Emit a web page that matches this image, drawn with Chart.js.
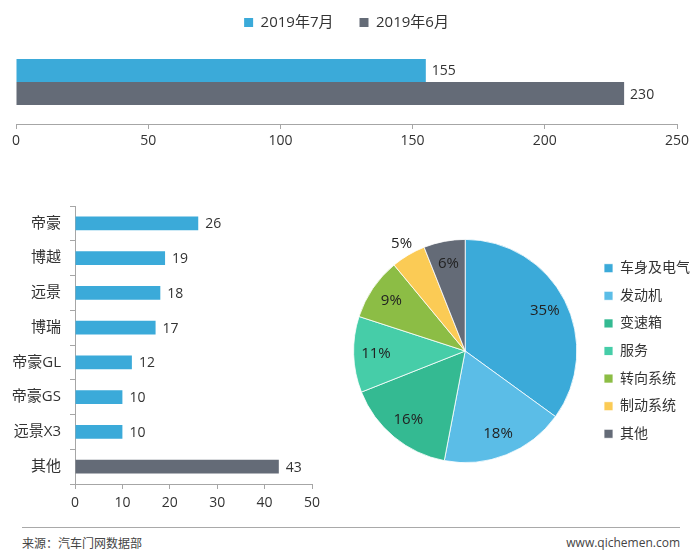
<!DOCTYPE html>
<html>
<head>
<meta charset="utf-8">
<script src="https://cdn.jsdelivr.net/npm/chart.js@4/dist/chart.umd.min.js"></script>
<style>
  html,body{margin:0;padding:0;background:#fff;overflow:hidden;}
  body{width:700px;height:560px;position:relative;font-family:"Open Sans","Noto Sans CJK SC",sans-serif;}
  .box{position:absolute;}
  #foot{position:absolute;left:22px;top:527px;width:658px;border-top:1px solid #a9a9a9;font-size:12px;color:#444;}
  #foot span{position:absolute;top:6px;}
</style>
</head>
<body>
<div class="box" style="left:0;top:-11px;width:700px;height:165px"><canvas id="top"></canvas></div>
<div class="box" style="left:0;top:188px;width:340px;height:332px"><canvas id="models"></canvas></div>
<div class="box" style="left:340px;top:215px;width:360px;height:272px"><canvas id="parts"></canvas></div>
<div id="foot"><span style="left:0">来源：汽车门网数据部</span><span style="right:0">www.qichemen.com</span></div>
<script>
// 总量：2019年7月 vs 2019年6月
const monthLabels=['2019年7月','2019年6月'];
const monthValues=[155,230];

// 车型
const modelNames=['帝豪','博越','远景','博瑞','帝豪GL','帝豪GS','远景X3','其他'];
const modelValues=[26,19,18,17,12,10,10,43];

// 故障部位占比 (%)
const partNames=['车身及电气','发动机','变速箱','服务','转向系统','制动系统','其他'];
const partValues=[35,18,16,11,9,5,6];

const FONT='"Open Sans","Noto Sans CJK SC",sans-serif';
const BLUE='#3BAAD9', GREY='#646B77';
Chart.defaults.font.family=FONT;
Chart.defaults.color='#333';
Chart.defaults.animation=false;

// 数值标签
const valueLabels={
  id:'valueLabels',
  afterDatasetsDraw(chart,args,opts){
    const ctx=chart.ctx;
    ctx.save();
    ctx.font=(opts.size||14)+'px '+FONT;
    ctx.fillStyle=opts.color||'#333';
    chart.data.datasets.forEach((ds,i)=>{
      const meta=chart.getDatasetMeta(i);
      meta.data.forEach((el,j)=>{
        const v=ds.data[j];
        if(chart.config.type==='pie'){
          const mid=(el.startAngle+el.endAngle)/2;
          const f=v<6?1.12:0.8;
          ctx.textAlign='center';ctx.textBaseline='middle';
          ctx.fillText(v+'%',el.x+Math.cos(mid)*el.outerRadius*f,el.y+Math.sin(mid)*el.outerRadius*f);
        }else{
          ctx.textAlign='left';ctx.textBaseline='middle';
          ctx.fillText(String(v),el.x+(opts.offset||6),el.y+1);
        }
      });
    });
    ctx.restore();
  }
};

const axisGrid={display:true,drawOnChartArea:false,drawTicks:true,tickLength:5,color:'#a6a6a6'};

new Chart(document.getElementById('top'),{
  type:'bar',
  data:{labels:[''],datasets:[
    {label:monthLabels[0],data:[monthValues[0]],backgroundColor:BLUE},
    {label:monthLabels[1],data:[monthValues[1]],backgroundColor:GREY}
  ]},
  options:{
    indexAxis:'y',responsive:true,maintainAspectRatio:false,
    categoryPercentage:0.55,barPercentage:1,
    layout:{padding:{left:16,right:23,top:0,bottom:0}},
    plugins:{
      legend:{position:'top',labels:{boxWidth:9,boxHeight:9,padding:26,font:{size:15},color:'#333'}},
      tooltip:{enabled:false},
      valueLabels:{size:14,offset:6}
    },
    scales:{
      x:{min:0,max:250,ticks:{stepSize:50,font:{size:14},color:'#333',padding:4},
         grid:axisGrid,border:{display:true,color:'#a6a6a6'},
         afterFit(s){s.height=30;}},
      y:{display:false}
    }
  },
  plugins:[valueLabels]
});

new Chart(document.getElementById('models'),{
  type:'bar',
  data:{labels:modelNames,datasets:[{data:modelValues,
    backgroundColor:modelNames.map((n,i)=>i===modelNames.length-1?GREY:BLUE)}]},
  options:{
    indexAxis:'y',responsive:true,maintainAspectRatio:false,
    categoryPercentage:0.4,barPercentage:1,
    layout:{padding:{left:0,right:28,top:0,bottom:0}},
    plugins:{legend:{display:false},tooltip:{enabled:false},valueLabels:{size:14,offset:7}},
    scales:{
      x:{min:0,max:50,ticks:{stepSize:10,font:{size:14},color:'#333',padding:6},
         grid:axisGrid,border:{display:true,color:'#a6a6a6'},
         afterFit(s){s.height=36;}},
      y:{ticks:{font:{size:15},color:'#333',padding:9},
         grid:axisGrid,border:{display:true,color:'#a6a6a6'},
         afterFit(s){s.width=75;}}
    }
  },
  plugins:[valueLabels]
});

new Chart(document.getElementById('parts'),{
  type:'pie',
  data:{labels:partNames,datasets:[{data:partValues,
    backgroundColor:['#3BAAD9','#5BBDE7','#34BA92','#46CDA8','#8CBD45','#FBCB55','#646B77'],
    borderColor:'#fff',borderWidth:0.8}]},
  options:{
    responsive:true,maintainAspectRatio:false,
    layout:{padding:{left:0,right:0,top:24,bottom:24}},
    plugins:{
      legend:{position:'right',labels:{boxWidth:9,boxHeight:9,padding:13.6,font:{size:14},color:'#333'}},
      tooltip:{enabled:false},
      valueLabels:{size:15,color:'#222'}
    }
  },
  plugins:[valueLabels]
});
</script>
</body>
</html>
